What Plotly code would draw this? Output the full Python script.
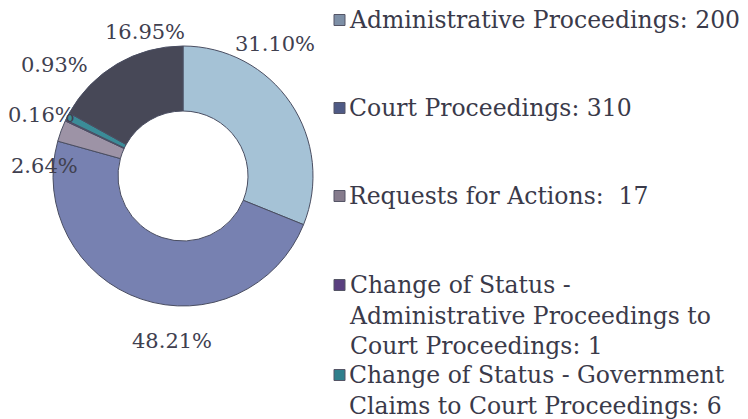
import plotly.graph_objects as go

# slice data, clockwise from 12 o'clock
labels = [
    "Administrative Proceedings",
    "Court Proceedings",
    "Requests for Actions",
    "Change of Status - Administrative Proceedings to Court Proceedings",
    "Change of Status - Government Claims to Court Proceedings",
    "Other",
]
values = [200, 310, 17, 1, 6, 109]
colors = ["#a5c2d6", "#7781b1", "#9d93a6", "#5f4b80", "#3b8c98", "#474857"]

# legend entries visible in the picture (the last one is cut off)
legend_text = [
    "Administrative Proceedings: 200",
    "Court Proceedings: 310",
    "Requests for Actions:  17",
    "Change of Status -<br>Administrative Proceedings to<br>Court Proceedings: 1",
    "Change of Status - Government<br>Claims to Court Proceedings: 6",
]
legend_colors = ["#7d8fa6", "#4f5a85", "#857b8c", "#5a3f80", "#2f7f8c"]

FONT = "DejaVu Serif"
W, H = 748, 419
CX, CY, R = 183, 176, 130

# where the percentage labels sit (pixel centres), one per slice
label_pos = [(275, 44), (172, 341), (44, 166), (41, 115), (54, 65), (145, 32)]
# first-line centre of each legend entry
legend_y = [20, 108, 196, 285, 375]

total = sum(values)
pct = ["%.2f%%" % (100.0 * v / total) for v in values]

fig = go.Figure()
fig.add_trace(go.Pie(
    labels=labels,
    values=values,
    hole=0.5,
    sort=False,
    direction="clockwise",
    rotation=0,
    marker=dict(colors=colors, line=dict(color="#4a4e62", width=1)),
    textinfo="none",
    hoverinfo="label+value+percent",
    showlegend=False,
    domain=dict(x=[(CX - R) / W, (CX + R) / W], y=[1 - (CY + R) / H, 1 - (CY - R) / H]),
))

annotations = []
for txt, (x, y) in zip(pct, label_pos):
    annotations.append(dict(
        x=x, y=y, xref="x", yref="y", text=txt, showarrow=False,
        xanchor="center", yanchor="middle",
        font=dict(family=FONT, size=21, color="#40404f"),
    ))

shapes = []
LS = 23.5
for txt, col, y in zip(legend_text, legend_colors, legend_y):
    annotations.append(dict(
        x=347, y=y - LS * 0.68, xref="x", yref="y", text=txt, showarrow=False,
        xanchor="left", yanchor="top", align="left",
        font=dict(family=FONT, size=LS, color="#3a3a4a"),
    ))
    shapes.append(dict(
        type="rect", xref="x", yref="y",
        x0=334, x1=345, y0=y - 5.5, y1=y + 5.5,
        fillcolor=col, line=dict(color="#555566", width=1),
    ))

fig.update_layout(
    width=W, height=H,
    margin=dict(l=0, r=0, t=0, b=0),
    paper_bgcolor="white",
    plot_bgcolor="rgba(0,0,0,0)",
    xaxis=dict(range=[0, W], visible=False, fixedrange=True),
    yaxis=dict(range=[H, 0], visible=False, fixedrange=True),
    annotations=annotations,
    shapes=shapes,
)

# drop the default 8px body margin so the figure fills the window
fig.write_html("out.html", config={"displayModeBar": False},
               post_script="document.body.style.margin='0';")
